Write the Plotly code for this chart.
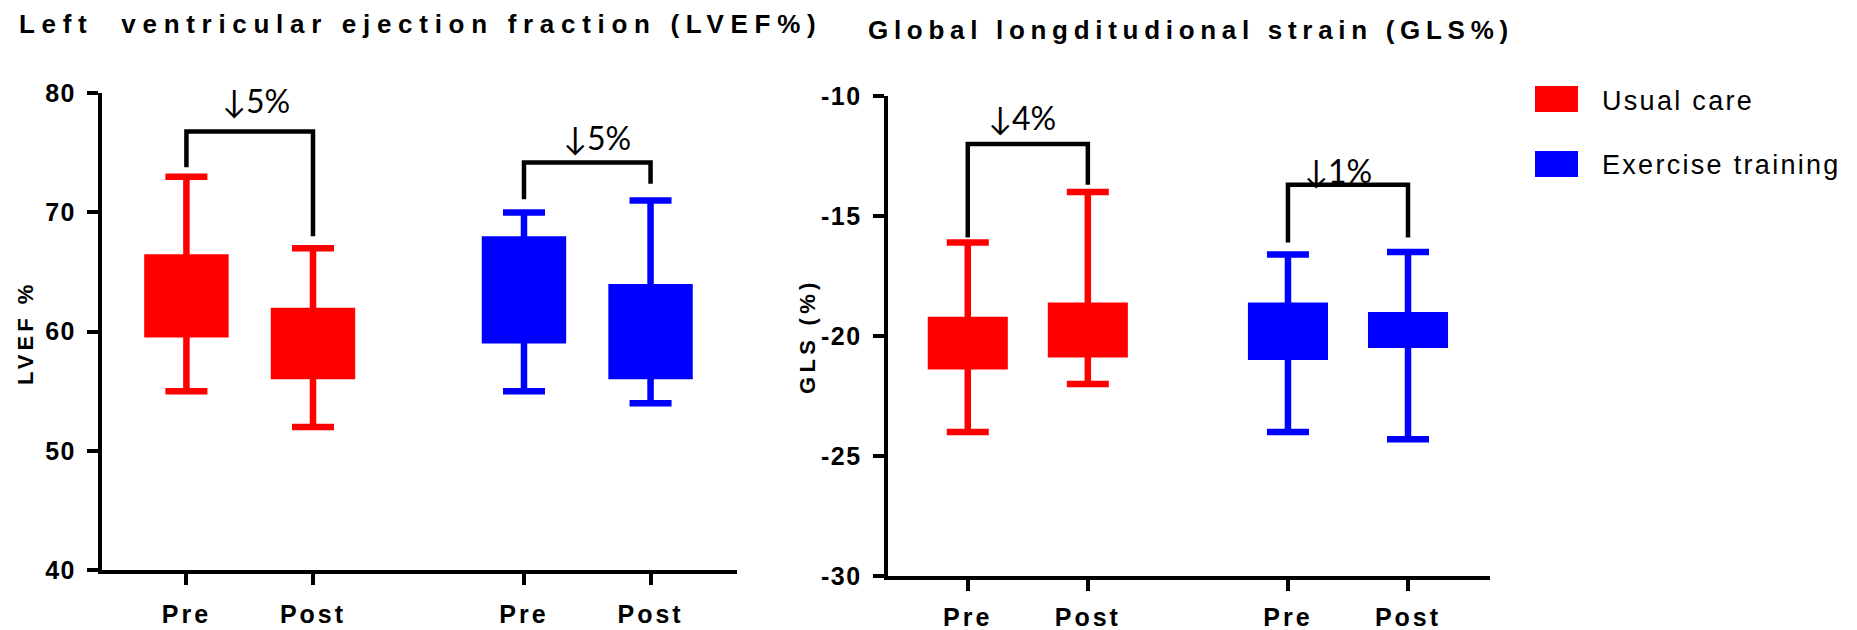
import plotly.graph_objects as go

# ---------------- data ----------------
groups = ["Usual care", "Exercise training"]
times = ["Pre", "Post"]
group_colors = ["#FF0000", "#0000FF"]

# LVEF (%)  -- floating box (q1..q3) with min/max whiskers
lvef_uc_min = [55.0, 52.0]
lvef_uc_q1 = [59.5, 56.0]
lvef_uc_q3 = [66.5, 62.0]
lvef_uc_max = [73.0, 67.0]
lvef_et_min = [55.0, 54.0]
lvef_et_q1 = [59.0, 56.0]
lvef_et_q3 = [68.0, 64.0]
lvef_et_max = [70.0, 71.0]

# GLS (%)
gls_uc_min = [-24.0, -22.0]
gls_uc_q1 = [-21.4, -20.9]
gls_uc_q3 = [-19.2, -18.6]
gls_uc_max = [-16.1, -14.0]
gls_et_min = [-24.0, -24.3]
gls_et_q1 = [-21.0, -20.5]
gls_et_q3 = [-18.6, -19.0]
gls_et_max = [-16.6, -16.5]

# change brackets (per group: Usual care, Exercise training)
lvef_bracket_top = [76.8, 74.2]
lvef_bracket_pre_end = [73.8, 71.1]
lvef_bracket_post_end = [68.0, 72.4]
lvef_change_text = ["↓5%", "↓5%"]
lvef_change_y = [79.4, 76.3]

gls_bracket_top = [-12.0, -13.7]
gls_bracket_pre_end = [-15.9, -16.1]
gls_bracket_post_end = [-13.7, -15.9]
gls_change_text = ["↓4%", "↓1%"]
gls_change_y = [-10.9, -13.1]

panel_titles = ["Left  ventricular ejection fraction (LVEF%)",
                "Global longditudional strain (GLS%)"]
y_titles = ["LVEF %", "GLS (%)"]
lvef_ticks = [40, 50, 60, 70, 80]
gls_ticks = [-30, -25, -20, -15, -10]

# ---------------- styling / layout ----------------
PAGE_W, PAGE_H = 1857, 630
OFF = 8                     # default body margin of the html page
W, H = PAGE_W - OFF, PAGE_H - OFF
FONT = "Liberation Sans, Arial, sans-serif"
LABELFONT = "Lato, Carlito, DejaVu Sans, sans-serif"
GAP = 2.667
BOX_W = 0.667
CAP_HALF = 21


def px(X):
    return (X - OFF) / W


def py(Y):
    return (PAGE_H - Y) / H


def spaced(t, ls):
    return '<span style="letter-spacing:%.1fpx">%s</span>' % (ls, t)


def pos(g):
    return [g * GAP + i for i in range(len(times))]


fig = go.Figure()

panels = [
    dict(xa="x", ya="y",
         stats=[(lvef_uc_min, lvef_uc_q1, lvef_uc_q3, lvef_uc_max),
                (lvef_et_min, lvef_et_q1, lvef_et_q3, lvef_et_max)],
         btop=lvef_bracket_top, bpre=lvef_bracket_pre_end, bpost=lvef_bracket_post_end,
         ctext=lvef_change_text, cy=lvef_change_y, cdx=[0.55, 0.58]),
    dict(xa="x2", ya="y2",
         stats=[(gls_uc_min, gls_uc_q1, gls_uc_q3, gls_uc_max),
                (gls_et_min, gls_et_q1, gls_et_q3, gls_et_max)],
         btop=gls_bracket_top, bpre=gls_bracket_pre_end, bpost=gls_bracket_post_end,
         ctext=gls_change_text, cy=gls_change_y, cdx=[0.45, 0.42]),
]

for pi, p in enumerate(panels):
    for g, (mn, q1, q3, mx) in enumerate(p["stats"]):
        xs = pos(g)
        col = group_colors[g]
        fig.add_trace(go.Bar(
            x=xs, y=[b - a for a, b in zip(q1, q3)], base=q1, width=BOX_W,
            marker=dict(color=col, line=dict(width=0)),
            xaxis=p["xa"], yaxis=p["ya"], showlegend=False, name=groups[g]))
        fig.add_trace(go.Scatter(
            x=xs, y=q3, mode="markers",
            marker=dict(size=1, color="rgba(0,0,0,0)"),
            error_y=dict(type="data", symmetric=False,
                         array=[b - a for a, b in zip(q3, mx)],
                         arrayminus=[a - b for a, b in zip(q3, mn)],
                         color=col, thickness=6.5, width=CAP_HALF),
            xaxis=p["xa"], yaxis=p["ya"], showlegend=False, hoverinfo="skip"))
        # bracket
        fig.add_trace(go.Scatter(
            x=[xs[0], xs[0], xs[1], xs[1]],
            y=[p["bpre"][g], p["btop"][g], p["btop"][g], p["bpost"][g]],
            mode="lines", line=dict(color="black", width=4.5),
            xaxis=p["xa"], yaxis=p["ya"], showlegend=False, hoverinfo="skip"))
        fig.add_annotation(
            x=xs[0] + p["cdx"][g], y=p["cy"][g], xref=p["xa"], yref=p["ya"],
            text=p["ctext"][g], showarrow=False, xanchor="center", yanchor="middle",
            font=dict(family=LABELFONT, size=32, color="black"))

axis_common = dict(showline=True, linewidth=4, linecolor="black",
                   ticks="outside", ticklen=11, tickwidth=4, tickcolor="black",
                   showgrid=False, zeroline=False, fixedrange=True,
                   automargin=False)
xtickvals = pos(0) + pos(1)
xticktext = [spaced(t, 3) for t in times * 2]
xtickfont = dict(family=FONT, size=25, color="black", weight="bold")
ytickfont = dict(family=FONT, size=25, color="black", weight="bold")

fig.update_layout(
    template="none",
    width=W, height=H, autosize=False,
    margin=dict(l=0, r=0, t=0, b=0, pad=0),
    paper_bgcolor="white", plot_bgcolor="white",
    barmode="overlay", showlegend=False,
    xaxis=dict(domain=[px(102), px(737)], range=[-0.667, 4.35], anchor="y",
               tickvals=xtickvals, ticktext=xticktext, tickfont=xtickfont,
               ticklabelstandoff=8, **axis_common),
    yaxis=dict(domain=[py(570), py(93.3)], range=[40, 80], anchor="x",
               tickvals=lvef_ticks, ticktext=[spaced(str(v), 1.5) for v in lvef_ticks],
               tickfont=ytickfont, ticklabelstandoff=6, **axis_common),
    xaxis2=dict(domain=[px(887.7), px(1490)], range=[-0.667, 4.35], anchor="y2",
                tickvals=xtickvals, ticktext=xticktext, tickfont=xtickfont,
                ticklabelstandoff=5, **axis_common),
    yaxis2=dict(domain=[py(576), py(96)], range=[-30, -10], anchor="x2",
                tickvals=gls_ticks, ticktext=[spaced(str(v), 1.5) for v in gls_ticks],
                tickfont=ytickfont, ticklabelstandoff=6, **axis_common),
)

# panel titles
for txt, x0, yc, ls in [(panel_titles[0], 17, 24, 6.7), (panel_titles[1], 866, 30, 5.7)]:
    fig.add_annotation(x=px(x0), y=py(yc), xref="paper", yref="paper",
                       text=spaced(txt, ls), showarrow=False,
                       xanchor="left", yanchor="middle",
                       font=dict(family=FONT, size=26, color="black", weight="bold"))

# y-axis titles
for txt, xc, yc, ls in [(y_titles[0], 25, 333, 4.0), (y_titles[1], 807, 336, 4.3)]:
    fig.add_annotation(x=px(xc), y=py(yc), xref="paper", yref="paper",
                       text=spaced(txt, ls), showarrow=False, textangle=-90,
                       xanchor="center", yanchor="middle",
                       font=dict(family=FONT, size=22, color="black", weight="bold"))

# legend (swatches + labels)
for g, (y0, y1, ty) in enumerate([(86, 112, 101), (151, 177, 165)]):
    fig.add_shape(type="rect", xref="paper", yref="paper",
                  x0=px(1535), x1=px(1578), y0=py(y1), y1=py(y0),
                  fillcolor=group_colors[g], line=dict(width=0))
    fig.add_annotation(x=px(1600), y=py(ty), xref="paper", yref="paper",
                       text=spaced(groups[g], 2.3), showarrow=False,
                       xanchor="left", yanchor="middle",
                       font=dict(family=FONT, size=27, color="black"))

fig.write_html("out.html")
